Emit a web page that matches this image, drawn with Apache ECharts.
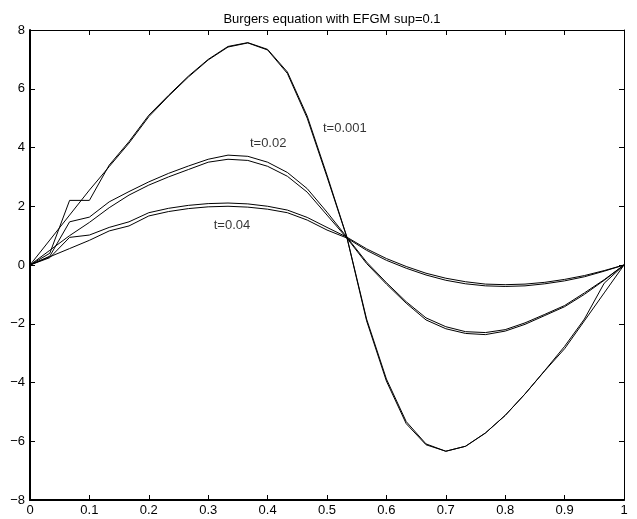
<!DOCTYPE html>
<html>
<head>
<meta charset="utf-8">
<script src="https://cdn.jsdelivr.net/npm/echarts@6/dist/echarts.min.js"></script>
<style>
html,body{margin:0;padding:0;background:#fff;}
#c{width:637px;height:519px;}
</style>
</head>
<body>
<div id="c"></div>
<script>
// x grid: k/30, k = 0..30
var xs = [];
for (var k = 0; k <= 30; k++) xs.push(k / 30);

// t = 0.001
var u001_efgm  = [0, 0.4, 2.2, 2.2, 3.4, 4.2, 5.1, 5.78, 6.43, 7.0, 7.44, 7.57, 7.34, 6.57, 5.07, 3.06, 0.96, -1.84, -3.88, -5.33, -6.09, -6.34, -6.17, -5.72, -5.12, -4.39, -3.59, -2.77, -1.84, -0.62, 0];
var u001_exact = [0, 0.85, 1.7, 2.55, 3.35, 4.15, 5.05, 5.75, 6.4, 6.98, 7.42, 7.56, 7.32, 6.52, 5.0, 3.0, 0.95, -1.9, -3.95, -5.4, -6.12, -6.34, -6.17, -5.72, -5.12, -4.39, -3.6, -2.85, -1.9, -0.95, 0];
// t = 0.02
var u002_efgm  = [0, 0.3, 1.47, 1.63, 2.15, 2.5, 2.83, 3.12, 3.37, 3.6, 3.74, 3.7, 3.5, 3.15, 2.6, 1.8, 0.95, 0.1, -0.6, -1.25, -1.8, -2.1, -2.27, -2.3, -2.2, -1.97, -1.68, -1.38, -0.95, -0.5, 0];
var u002_exact = [0, 0.5, 1.0, 1.45, 1.95, 2.38, 2.72, 3.0, 3.25, 3.5, 3.6, 3.56, 3.36, 3.02, 2.48, 1.7, 0.92, 0.05, -0.65, -1.3, -1.87, -2.17, -2.33, -2.37, -2.25, -2.02, -1.72, -1.42, -1.0, -0.52, 0];
// t = 0.04
var u004_efgm  = [0, 0.25, 0.94, 1.02, 1.28, 1.47, 1.78, 1.93, 2.03, 2.09, 2.11, 2.08, 2.0, 1.87, 1.62, 1.28, 0.95, 0.55, 0.22, -0.05, -0.28, -0.45, -0.57, -0.65, -0.67, -0.65, -0.59, -0.49, -0.36, -0.19, 0];
var u004_exact = [0, 0.28, 0.56, 0.84, 1.16, 1.33, 1.67, 1.82, 1.92, 1.98, 2.0, 1.97, 1.9, 1.78, 1.53, 1.19, 0.92, 0.5, 0.16, -0.11, -0.34, -0.52, -0.64, -0.71, -0.73, -0.71, -0.64, -0.54, -0.4, -0.21, 0];

var curves = [u001_efgm, u001_exact, u002_efgm, u002_exact, u004_efgm, u004_exact];

// annotation labels (data coordinates)
var labelTexts = ['t=0.001', 't=0.02', 't=0.04'];
var labelX = [0.530, 0.401, 0.340];
var labelY = [4.66, 4.15, 1.36];

var titleText = 'Burgers equation with EFGM sup=0.1';

function pairs(ys) {
  return ys.map(function (y, i) { return [xs[i], y]; });
}

var FONT = '"Liberation Sans", Arial, Helvetica, sans-serif';

var series = curves.map(function (c) {
  return {
    type: 'line', data: pairs(c), showSymbol: false, symbol: 'none',
    lineStyle: { color: '#000', width: 1 }, silent: true, animation: false,
    xAxisIndex: 0, yAxisIndex: 0
  };
});
series.push({
  type: 'scatter', symbolSize: 0, silent: true, animation: false,
  data: labelTexts.map(function (t, i) { return { value: [labelX[i], labelY[i]], name: t }; }),
  label: {
    show: true, position: 'inside', formatter: function (p) { return p.name; },
    color: '#000', fontSize: 13, fontFamily: FONT
  }
});

var tickStyle = { show: true, inside: true, length: 5, lineStyle: { color: '#000', width: 1 } };

var option = {
  backgroundColor: '#fff',
  animation: false,
  title: {
    text: titleText, left: 327, top: 8, textAlign: 'center',
    textStyle: { fontSize: 13, fontWeight: 'normal', color: '#000', fontFamily: FONT }
  },
  grid: { left: 30, right: 13, top: 30, bottom: 19, containLabel: false },
  xAxis: [
    {
      type: 'value', min: 0, max: 1, interval: 0.1, position: 'bottom',
      axisLine: { show: true, onZero: false, lineStyle: { color: '#000', width: 2 } },
      axisTick: tickStyle,
      axisLabel: { color: '#000', fontSize: 13, fontFamily: FONT, margin: 4 },
      splitLine: { show: false }
    },
    {
      type: 'value', min: 0, max: 1, interval: 0.1, position: 'top',
      axisLine: { show: true, onZero: false, lineStyle: { color: '#000', width: 1 } },
      axisTick: tickStyle, axisLabel: { show: false }, splitLine: { show: false }
    }
  ],
  yAxis: [
    {
      type: 'value', min: -8, max: 8, interval: 2, position: 'left',
      axisLine: { show: true, onZero: false, lineStyle: { color: '#000', width: 2 } },
      axisTick: tickStyle,
      axisLabel: {
        color: '#000', fontSize: 13, fontFamily: FONT, margin: 5,
        formatter: function (v) { return String(v).replace('-', '\u2212'); }
      },
      splitLine: { show: false }
    },
    {
      type: 'value', min: -8, max: 8, interval: 2, position: 'right',
      axisLine: { show: true, onZero: false, lineStyle: { color: '#000', width: 1 } },
      axisTick: tickStyle, axisLabel: { show: false }, splitLine: { show: false }
    }
  ],
  series: series
};

var chart = echarts.init(document.getElementById('c'), null, { renderer: 'canvas' });
chart.setOption(option);
</script>
</body>
</html>
